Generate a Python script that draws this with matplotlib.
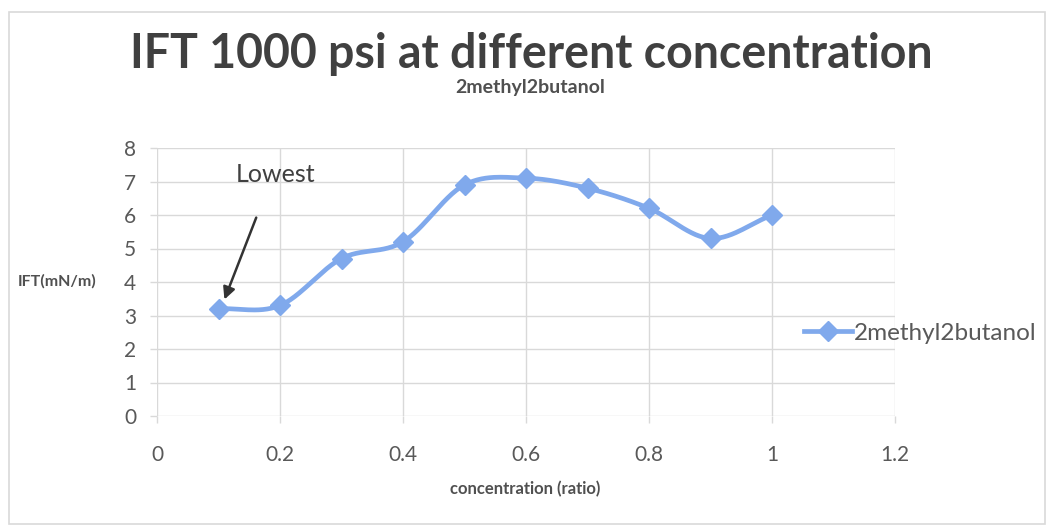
import numpy as np
import matplotlib.pyplot as plt
from matplotlib.patches import Rectangle

# Data
concentration = [0.1, 0.2, 0.3, 0.4, 0.5, 0.6, 0.7, 0.8, 0.9, 1.0]
ift = [3.2, 3.3, 4.7, 5.2, 6.9, 7.1, 6.8, 6.2, 5.3, 6.0]
series_name = '2methyl2butanol'
x_ticks = [0, 0.2, 0.4, 0.6, 0.8, 1, 1.2]
x_tick_labels = ['0', '0.2', '0.4', '0.6', '0.8', '1', '1.2']
y_ticks = [0, 1, 2, 3, 4, 5, 6, 7, 8]

line_color = '#80a9ec'
grid_color = '#d9d9d9'
text_gray = '#595959'

plt.rcParams['font.family'] = ['Lato', 'DejaVu Sans']


def smooth_curve(xs, ys, n=30):
    # Catmull-Rom style smoothing like Excel's "smoothed line"
    xs = np.asarray(xs, float)
    ys = np.asarray(ys, float)
    px = np.concatenate([[2 * xs[0] - xs[1]], xs, [2 * xs[-1] - xs[-2]]])
    py = np.concatenate([[2 * ys[0] - ys[1]], ys, [2 * ys[-1] - ys[-2]]])
    out_x, out_y = [], []
    t = np.linspace(0, 1, n)
    for i in range(1, len(px) - 2):
        for arr, out in ((px, out_x), (py, out_y)):
            p0, p1, p2, p3 = arr[i - 1], arr[i], arr[i + 1], arr[i + 2]
            seg = 0.5 * ((2 * p1) + (-p0 + p2) * t
                         + (2 * p0 - 5 * p1 + 4 * p2 - p3) * t ** 2
                         + (-p0 + 3 * p1 - 3 * p2 + p3) * t ** 3)
            out.extend(seg)
    return np.array(out_x), np.array(out_y)


fig = plt.figure(figsize=(10.58, 5.28), dpi=100)
ax = fig.add_axes([157 / 1058, 1 - 416 / 528, (895 - 157) / 1058, (416 - 148) / 528])

# outer chart border
fig.patches.append(Rectangle((9 / 1058, 4 / 528), 1036 / 1058, 512 / 528,
                             transform=fig.transFigure, fill=False,
                             edgecolor='#d9d9d9', linewidth=1.2))

sx, sy = smooth_curve(concentration, ift)
ax.plot(sx, sy, color=line_color, linewidth=3.4, solid_capstyle='round', zorder=3)
ax.plot(concentration, ift, linestyle='none', marker='D', markersize=10,
        color=line_color, zorder=4)

ax.set_xlim(0, 1.2)
ax.set_ylim(0, 8)
ax.set_xticks(x_ticks)
ax.set_xticklabels(x_tick_labels)
ax.set_yticks(y_ticks)
ax.grid(True, color=grid_color, linewidth=1)
ax.set_axisbelow(True)
for s in ax.spines.values():
    s.set_visible(False)
ax.tick_params(axis='both', colors=grid_color, labelcolor=text_gray,
               labelsize=15, length=5, width=1)
ax.tick_params(axis='x', pad=16)
ax.tick_params(axis='y', pad=10)

# annotation arrow
ax.annotate('', xy=(0.108, 3.4), xytext=(0.163, 6.0),
            arrowprops=dict(arrowstyle='-|>', color='#333333', lw=1.8,
                            mutation_scale=18))
ax.text(0.192, 7.2, 'Lowest', ha='center', va='center', fontsize=18,
        color='#404040')

fig.text(531 / 1058, 1 - 54 / 528, 'IFT 1000 psi at different concentration',
         ha='center', va='center', fontsize=33.5, fontweight='bold', color='#404040')
fig.text(530 / 1058, 1 - 88 / 528, series_name, ha='center', va='center',
         fontsize=14, fontweight='bold', color='#505050')
fig.text(525 / 1058, 1 - 489 / 528, 'concentration (ratio)', ha='center',
         va='center', fontsize=12, fontweight='bold', color='#505050')
fig.text(18 / 1058, 1 - 281 / 528, 'IFT(mN/m)', ha='left', va='center',
         fontsize=11.5, fontweight='bold', color='#505050')

# legend
leg = fig.legend([plt.Line2D([], [], color=line_color, linewidth=3.4, marker='D',
                             markersize=10)],
                 [series_name], loc='center left',
                 bbox_to_anchor=(782 / 1058, 1 - 333 / 528), frameon=False,
                 fontsize=17.5, handlelength=2.0, handletextpad=0.05,
                 labelcolor=text_gray)

fig.savefig('out.png', dpi=100)
